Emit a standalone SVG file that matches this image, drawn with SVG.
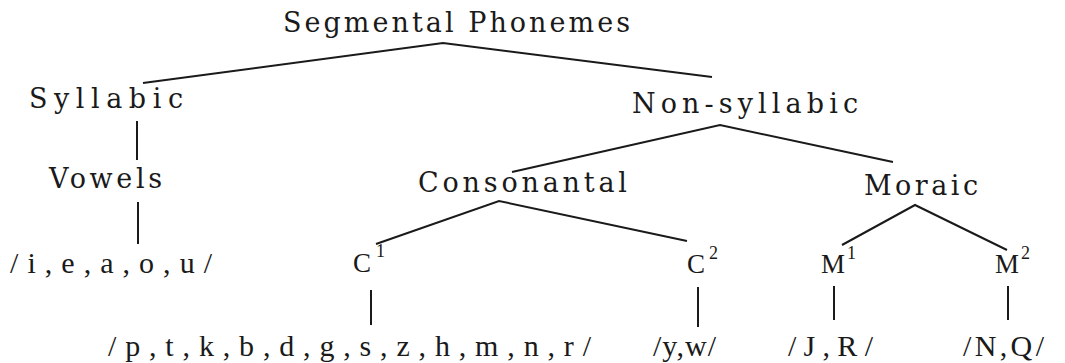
<svg xmlns="http://www.w3.org/2000/svg" width="1065" height="363" viewBox="0 0 1065 363">
<style>
.t{font-family:"DejaVu Serif","Liberation Serif",serif;font-size:27px;fill:#1a1a1a}
.s{font-family:"Liberation Serif","DejaVu Serif",serif;font-size:30px;fill:#1a1a1a}
.l{font-family:"Liberation Serif","DejaVu Serif",serif;font-size:27px;fill:#1a1a1a}
.sup{font-family:"Liberation Serif","DejaVu Serif",serif;font-size:18px;fill:#1a1a1a}
.e{fill:none;stroke:#1a1a1a;stroke-width:2;stroke-linejoin:miter}
</style>
<rect width="1065" height="363" fill="#ffffff"/>
<g id="connectors">
<polyline class="e" points="143,83 443,43 712,77"/>
<line class="e" x1="137" y1="121" x2="137" y2="160"/>
<line class="e" x1="138" y1="202" x2="138" y2="244"/>
<polyline class="e" points="512,172 720,125 893,162"/>
<polyline class="e" points="376,244 499,201 687,241"/>
<polyline class="e" points="842,245 915,205 1007,250"/>
<line class="e" x1="371" y1="290" x2="371" y2="325"/>
<line class="e" x1="698" y1="287" x2="698" y2="327"/>
<line class="e" x1="834" y1="286" x2="834" y2="320"/>
<line class="e" x1="1008" y1="286" x2="1008" y2="320"/>
</g>
<g id="segmental"><text class="t" x="283" y="32" textLength="347" lengthAdjust="spacing">Segmental Phonemes</text></g>
<g id="syllabic"><text class="t" x="29" y="108" textLength="154" lengthAdjust="spacing">Syllabic</text></g>
<g id="vowels"><text class="t" x="49" y="188" textLength="113" lengthAdjust="spacing">Vowels</text></g>
<g id="vowel-list"><text class="s" x="10" y="273" textLength="202" lengthAdjust="spacing">/i,e,a,o,u/</text></g>
<g id="nonsyllabic"><text class="t" x="632" y="113" textLength="226" lengthAdjust="spacing">Non-syllabic</text></g>
<g id="consonantal"><text class="t" x="418" y="192" textLength="209" lengthAdjust="spacing">Consonantal</text></g>
<g id="moraic"><text class="t" x="864" y="195" textLength="114" lengthAdjust="spacing">Moraic</text></g>
<g id="c1"><text class="l" x="353" y="272">C</text><text class="sup" x="376" y="257">1</text></g>
<g id="c2"><text class="l" x="687" y="273">C</text><text class="sup" x="709" y="259">2</text></g>
<g id="m1"><text class="l" x="821" y="273">M</text><text class="sup" x="847" y="259">1</text></g>
<g id="m2"><text class="l" x="995" y="273">M</text><text class="sup" x="1021" y="259">2</text></g>
<g id="c1-list"><text class="s" x="108" y="356" textLength="483" lengthAdjust="spacing">/p,t,k,b,d,g,s,z,h,m,n,r/</text></g>
<g id="c2-list"><text class="s" x="653" y="356" textLength="63" lengthAdjust="spacing">/y,w/</text></g>
<g id="m1-list"><text class="s" x="788" y="356" textLength="85" lengthAdjust="spacing">/J,R/</text></g>
<g id="m2-list"><text class="s" x="963" y="356" textLength="81" lengthAdjust="spacing">/N,Q/</text></g>
</svg>
